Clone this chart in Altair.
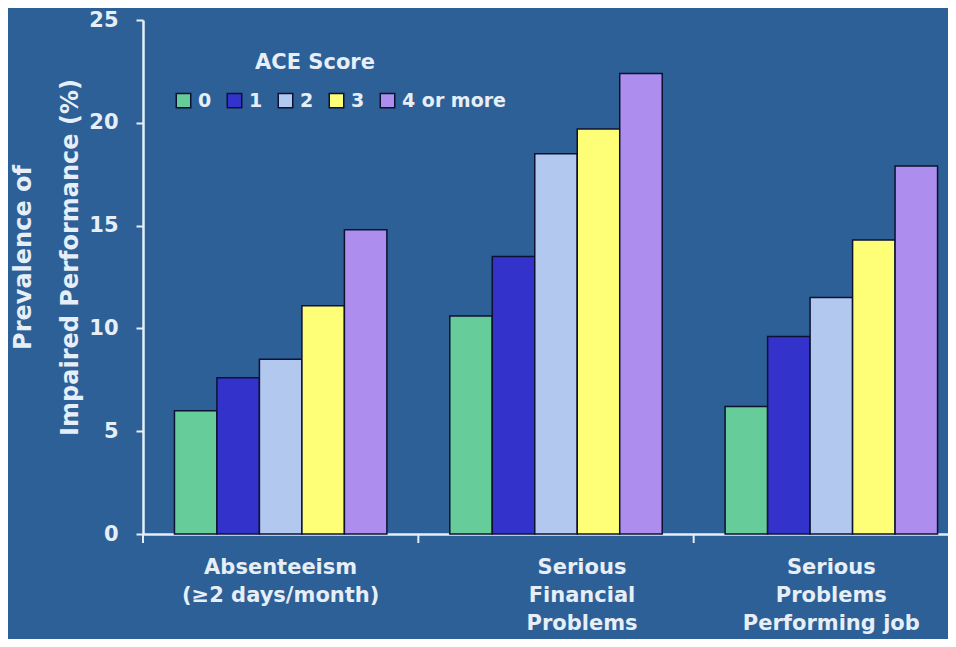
import altair as alt
import pandas as pd

categories = ["Absenteeism|(≥2 days/month)", "Serious|Financial|Problems", "Serious|Problems|Performing job"]
scores = ["0", "1", "2", "3", "4 or more"]
absenteeism = [6.0, 7.6, 8.5, 11.1, 14.8]
financial = [10.6, 13.5, 18.5, 19.7, 22.4]
performing = [6.2, 9.6, 11.5, 14.3, 17.9]
colors = ["#66cc99", "#3333cc", "#b3c8ee", "#ffff77", "#ad8eee"]
legend_title = "ACE Score"

rows = []
for cat, vals in zip(categories, [absenteeism, financial, performing]):
    for s, v in zip(scores, vals):
        rows.append({"cat": cat, "score": s, "value": v})
df = pd.DataFrame(rows)
cat_df = pd.DataFrame({"cat": categories})

BG = "#2d6096"
FG = "#e6eef8"
FONT = "DejaVu Sans"
H = 514
W = 805

xscale = alt.Scale(domain=categories, paddingInner=0, paddingOuter=0, range=[0, 826])

bars = alt.Chart(df).mark_bar(stroke="#0d1230", strokeWidth=1.5).encode(
    x=alt.X("cat:N", scale=xscale, sort=categories, title=None,
            axis=alt.Axis(labelExpr="split(datum.label, '|')", labelAngle=0,
                          ticks=False, labelPadding=22, labelFontSize=21,
                          labelLineHeight=28, labelLimit=400,
                          labelOffset={"condition": {"test": "datum.value == 'Serious|Financial|Problems'", "value": 26}, "value": 0},
                          labelBaseline="top",
                          domainColor=FG, domainWidth=2.5)),
    xOffset=alt.XOffset("score:N", sort=scores,
                        scale=alt.Scale(paddingInner=0, paddingOuter=0.74)),
    y=alt.Y("value:Q", scale=alt.Scale(domain=[0, 25]),
            axis=alt.Axis(values=[0, 5, 10, 15, 20, 25], tickSize=7, tickColor=FG,
                          tickWidth=2, domainColor=FG, domainWidth=2.5,
                          labelFontSize=21, labelPadding=18,
                          title=["Prevalence of", "Impaired Performance (%)"],
                          titleFontSize=24, titleLineHeight=47, titlePadding=6,
                          titleY=237)),
    color=alt.Color("score:N", sort=scores,
                    scale=alt.Scale(domain=scores, range=colors),
                    legend=alt.Legend(title=None, orient="none",
                                      direction="horizontal", legendX=31, legendY=71,
                                      symbolType="square", symbolSize=210,
                                      symbolStrokeColor="#0d1230", symbolStrokeWidth=1.5,
                                      labelFontSize=19,
                                      columnPadding=12, labelOffset=5)),
)

title_text = alt.Chart(pd.DataFrame({"t": [legend_title]})).mark_text(
    font=FONT, fontWeight="bold", fontSize=21, color=FG, align="center", baseline="middle"
).encode(text="t:N", x=alt.value(172), y=alt.value(43))

ticks = alt.Chart(cat_df).mark_rule(color=FG, strokeWidth=2).encode(
    x=alt.X("cat:N", scale=xscale, sort=categories, bandPosition=0),
    y=alt.value(H),
    y2=alt.value(H + 9),
)

chart = alt.layer(bars, ticks, title_text).properties(
    width=W, height=H, background=BG,
    autosize=alt.AutoSizeParams(type="none"),
    padding={"left": 135, "top": 12, "right": 0, "bottom": 105},
).configure_view(stroke=None).configure_axis(
    labelColor=FG, titleColor=FG, labelFont=FONT, titleFont=FONT,
    labelFontWeight="bold", titleFontWeight="bold", grid=False,
).configure_legend(
    labelColor=FG, titleColor=FG, labelFont=FONT, titleFont=FONT,
    labelFontWeight="bold", titleFontWeight="bold",
)

chart.save("out.html", embed_options={"renderer": "svg", "actions": False})
